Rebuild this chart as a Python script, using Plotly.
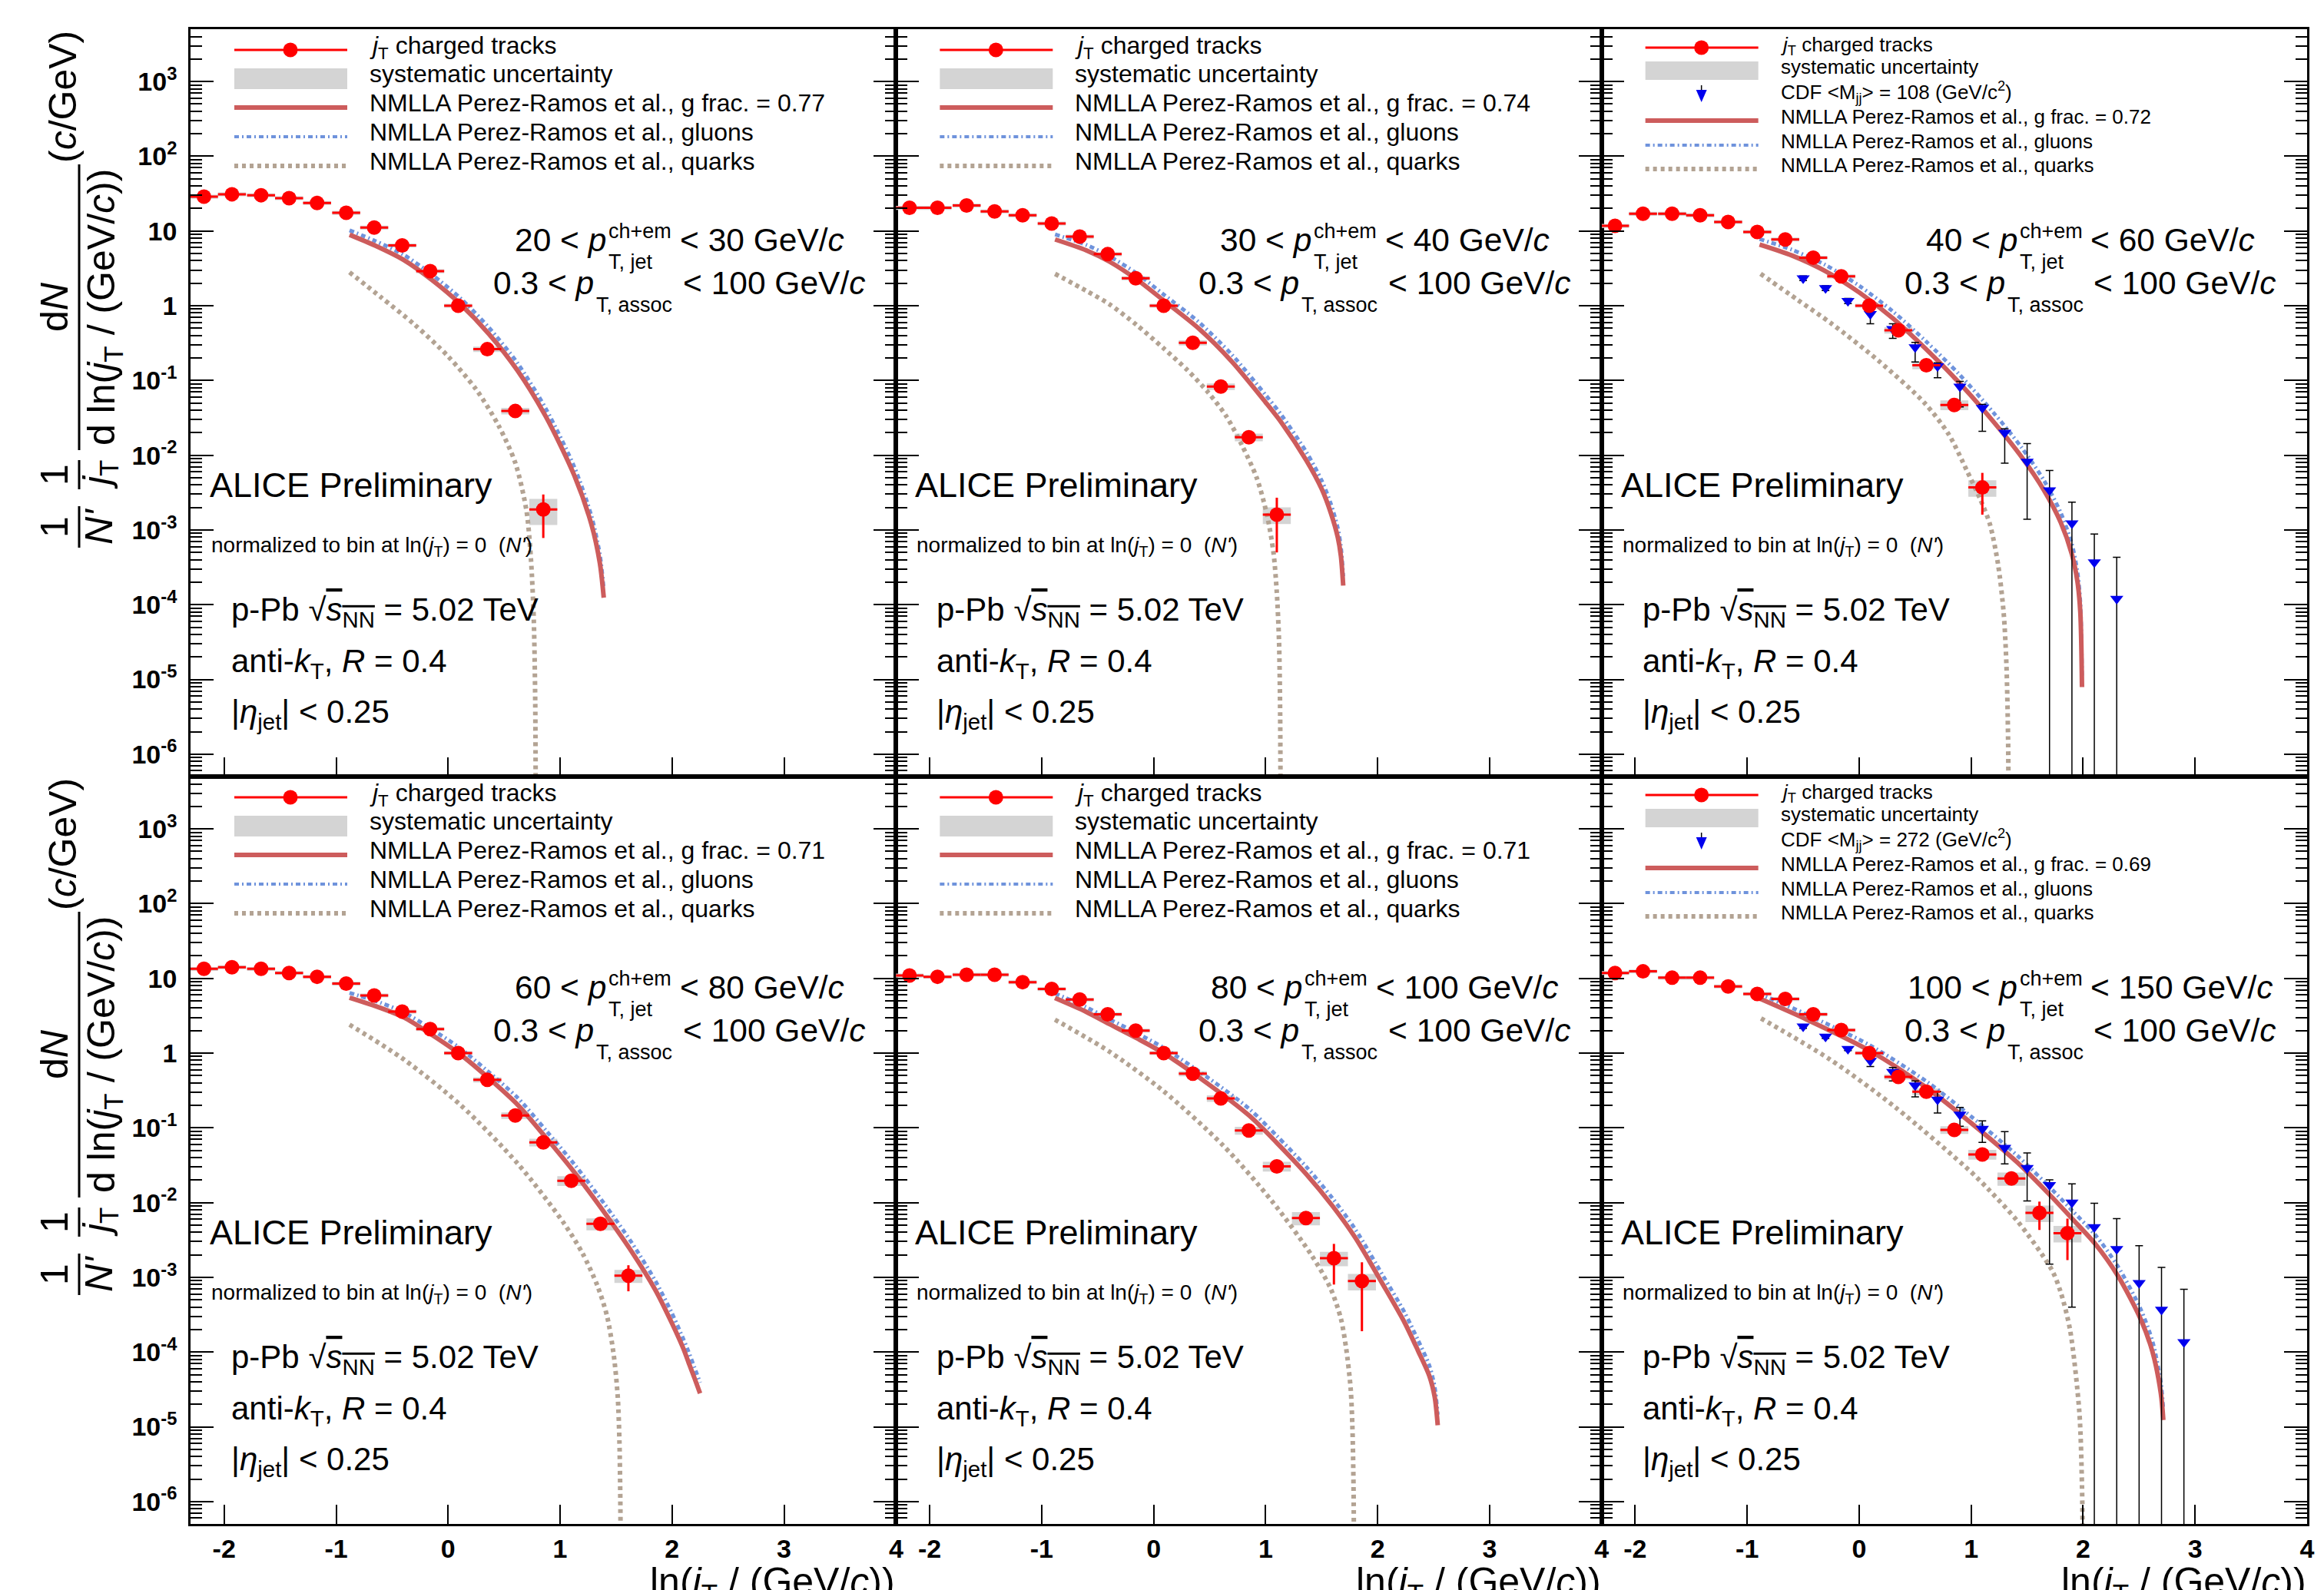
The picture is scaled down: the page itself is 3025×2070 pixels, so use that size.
import plotly.graph_objects as go
from plotly.subplots import make_subplots

# ---------------- data ----------------
jt_bins = [-2.18, -1.93, -1.67, -1.42, -1.17, -0.91, -0.66, -0.41, -0.16, 0.09,
           0.35, 0.60, 0.85, 1.10, 1.36, 1.61, 1.86]
bin_half_width = 0.125

jet_pt_low = [20, 30, 40, 60, 80, 100]
jet_pt_high = [30, 40, 60, 80, 100, 150]
g_fraction = ["0.77", "0.74", "0.72", "0.71", "0.71", "0.69"]
cdf_mjj = [None, None, "108", None, None, "272"]

# ALICE jT spectra
y_20_30 = [28.8, 31.0, 30.1, 27.5, 23.7, 17.5, 11.1, 6.4, 2.9, 1.0, 0.262, 0.039, 0.00188]
y_30_40 = [20.4, 20.4, 21.9, 18.3, 16.2, 12.6, 8.4, 4.9, 2.33, 1.0, 0.32, 0.083, 0.0174, 0.0016]
y_40_60 = [11.7, 17.0, 17.0, 16.2, 13.2, 9.7, 7.7, 4.4, 2.47, 1.0, 0.47, 0.16, 0.047, 0.0037]
y_60_80 = [13.4, 14.1, 13.4, 11.8, 10.5, 8.5, 5.9, 3.6, 2.1, 1.0, 0.44, 0.146, 0.064, 0.0196, 0.0052, 0.00105]
y_80_100 = [10.9, 10.5, 11.2, 11.2, 8.9, 7.2, 5.2, 3.3, 2.0, 1.0, 0.53, 0.247, 0.092, 0.0305, 0.0062, 0.0018, 0.00089]
y_100_150 = [11.8, 12.4, 10.2, 10.2, 7.8, 6.2, 5.3, 3.3, 2.03, 1.0, 0.48, 0.305, 0.094, 0.044, 0.021, 0.0073, 0.0039]

# statistical errors (absolute)
stat_20_30 = [0, 0, 0, 0, 0, 0, 0, 0, 0, 0, 0, 0, 0.0011]
stat_30_40 = [0, 0, 0, 0, 0, 0, 0, 0, 0, 0, 0, 0, 0, 0.0011]
stat_40_60 = [0, 0, 0, 0, 0, 0, 0, 0, 0, 0, 0, 0, 0, 0.0021]
stat_60_80 = [0, 0, 0, 0, 0, 0, 0, 0, 0, 0, 0, 0, 0, 0, 0, 0.0004]
stat_80_100 = [0, 0, 0, 0, 0, 0, 0, 0, 0, 0, 0, 0, 0, 0, 0, 0.001, 0.0007]
stat_100_150 = [0, 0, 0, 0, 0, 0, 0, 0, 0, 0, 0, 0, 0, 0, 0, 0.003, 0.0022]

# relative systematic uncertainties
syst_20_30 = [0.06, 0.06, 0.06, 0.06, 0.06, 0.06, 0.06, 0.06, 0.06, 0.06, 0.08, 0.10, 0.38]
syst_30_40 = [0.06, 0.06, 0.06, 0.06, 0.06, 0.06, 0.06, 0.06, 0.06, 0.06, 0.08, 0.10, 0.12, 0.25]
syst_40_60 = [0.06, 0.06, 0.06, 0.06, 0.06, 0.06, 0.06, 0.06, 0.06, 0.06, 0.10, 0.12, 0.15, 0.25]
syst_60_80 = [0.06, 0.06, 0.06, 0.06, 0.06, 0.06, 0.06, 0.06, 0.06, 0.06, 0.08, 0.10, 0.12, 0.15, 0.18, 0.20]
syst_80_100 = [0.06, 0.06, 0.06, 0.06, 0.06, 0.06, 0.06, 0.06, 0.06, 0.06, 0.08, 0.10, 0.12, 0.15, 0.20, 0.22, 0.25]
syst_100_150 = [0.06, 0.06, 0.06, 0.06, 0.06, 0.06, 0.06, 0.06, 0.06, 0.06, 0.08, 0.10, 0.12, 0.15, 0.20, 0.25, 0.25]

# NMLLA curves: total (g frac), gluons (same x as total), quarks
tot_x_20_30 = [-0.88, -0.655, -0.397, -0.143, 0.11, 0.364, 0.618, 0.872, 1.126, 1.279, 1.355, 1.39]
tot_y_20_30 = [8.9, 6.4, 4.1, 2.2, 1.05, 0.42, 0.137, 0.033, 0.0054, 0.0012, 3.6e-4, 1.24e-4]
glu_y_20_30 = [10.2, 7.4, 4.8, 2.6, 1.26, 0.51, 0.172, 0.042, 0.0070, 0.00155, 4.7e-4, 1.6e-4]
qrk_x_20_30 = [-0.88, -0.6, -0.3, 0.0, 0.25, 0.45, 0.6, 0.7, 0.74, 0.765, 0.778, 0.783]
qrk_y_20_30 = [2.8, 1.3, 0.56, 0.21, 0.076, 0.025, 0.0079, 0.0018, 4e-4, 6.3e-5, 5e-6, 1e-7]

tot_x_30_40 = [-0.88, -0.6, -0.396, -0.15, 0.088, 0.4, 0.7, 1.0, 1.144, 1.364, 1.5, 1.584, 1.645, 1.672, 1.693]
tot_y_30_40 = [7.7, 5.5, 3.9, 2.24, 1.18, 0.50, 0.178, 0.051, 0.027, 0.0085, 0.00355, 0.00166, 7.9e-4, 4.5e-4, 1.8e-4]
glu_y_30_40 = [9.0, 6.5, 4.6, 2.7, 1.42, 0.61, 0.22, 0.064, 0.034, 0.011, 0.0046, 0.0022, 0.00105, 6e-4, 2.4e-4]
qrk_x_30_40 = [-0.88, -0.6, -0.396, -0.15, 0.088, 0.3, 0.484, 0.65, 0.792, 0.92, 1.012, 1.07, 1.1, 1.12, 1.13, 1.134]
qrk_y_30_40 = [2.67, 1.58, 1.05, 0.55, 0.27, 0.138, 0.07, 0.033, 0.0133, 0.005, 0.0016, 5e-4, 1.45e-4, 3.2e-5, 3.2e-6, 1e-7]

tot_x_40_60 = [-0.889, -0.6, -0.3, 0.0, 0.3, 0.6, 0.9, 1.2, 1.45, 1.65, 1.8, 1.9, 1.95, 1.975, 1.99]
tot_y_40_60 = [6.6, 4.7, 2.9, 1.51, 0.68, 0.26, 0.091, 0.028, 0.0095, 0.0034, 0.00126, 4.7e-4, 2e-4, 7.9e-5, 7.9e-6]
glu_y_40_60 = [7.8, 5.6, 3.5, 1.85, 0.84, 0.33, 0.118, 0.037, 0.0127, 0.0046, 0.0017, 6.4e-4, 2.7e-4, 1.08e-4, 1.1e-5]
qrk_x_40_60 = [-0.88, -0.55, -0.245, 0.17, 0.584, 0.8, 0.96, 1.08, 1.167, 1.24, 1.29, 1.315, 1.33, 1.335]
qrk_y_40_60 = [2.67, 1.2, 0.574, 0.185, 0.05, 0.019, 0.0063, 0.0026, 0.0012, 3.5e-4, 7.9e-5, 1.6e-5, 1.6e-6, 1e-7]

tot_x_60_80 = [-0.88, -0.6, -0.394, -0.15, 0.094, 0.35, 0.623, 0.88, 1.131, 1.4, 1.64, 1.85, 1.995, 2.1, 2.148, 2.2, 2.25]
tot_y_60_80 = [5.5, 4.0, 3.0, 1.78, 1.0, 0.48, 0.202, 0.072, 0.025, 0.0072, 0.0022, 6.8e-4, 2.5e-4, 1.12e-4, 7.2e-5, 4.5e-5, 2.8e-5]
glu_y_60_80 = [6.4, 4.7, 3.5, 2.1, 1.2, 0.58, 0.25, 0.09, 0.032, 0.0094, 0.0029, 9e-4, 3.4e-4, 1.5e-4, 1e-4, 6.2e-5, 3.9e-5]
qrk_x_60_80 = [-0.88, -0.394, 0.114, 0.623, 1.03, 1.2, 1.335, 1.42, 1.48, 1.515, 1.53, 1.538, 1.542]
qrk_y_60_80 = [2.4, 0.82, 0.2, 0.033, 0.0054, 0.0021, 7.6e-4, 3.0e-4, 8.9e-5, 2.5e-5, 6.3e-6, 1e-6, 1e-7]

tot_x_80_100 = [-0.881, -0.6, -0.396, -0.15, 0.088, 0.484, 0.853, 1.1, 1.364, 1.6, 1.8, 2.05, 2.24, 2.36, 2.462, 2.51, 2.537]
tot_y_80_100 = [5.45, 3.55, 2.45, 1.58, 1.0, 0.39, 0.146, 0.063, 0.0239, 0.0089, 0.0034, 7.9e-4, 2.5e-4, 1.05e-4, 4.8e-5, 2.5e-5, 1.05e-5]
glu_y_80_100 = [6.3, 4.1, 2.85, 1.85, 1.18, 0.47, 0.18, 0.078, 0.030, 0.0113, 0.0044, 1.04e-3, 3.4e-4, 1.45e-4, 6.6e-5, 3.4e-5, 1.45e-5]
qrk_x_80_100 = [-0.881, -0.396, 0.088, 0.616, 1.056, 1.408, 1.58, 1.672, 1.72, 1.759, 1.775, 1.785, 1.79]
qrk_y_80_100 = [2.8, 1.05, 0.31, 0.059, 0.0105, 0.002, 7.1e-4, 2.8e-4, 1.1e-4, 3.3e-5, 1e-5, 1.6e-6, 1e-7]

tot_x_100_150 = [-0.9, -0.47, 0.092, 0.599, 0.997, 1.416, 1.725, 1.906, 2.108, 2.31, 2.512, 2.62, 2.694, 2.716]
tot_y_100_150 = [5.45, 2.82, 1.08, 0.347, 0.117, 0.034, 0.0117, 0.006, 0.0028, 0.00105, 2.8e-4, 1e-4, 2.8e-5, 1.23e-5]
glu_y_100_150 = [6.3, 3.3, 1.28, 0.42, 0.143, 0.042, 0.0148, 0.0077, 0.0037, 0.0014, 3.8e-4, 1.38e-4, 3.9e-5, 1.7e-5]
qrk_x_100_150 = [-0.876, -0.259, 0.32, 0.997, 1.159, 1.416, 1.72, 1.8, 1.883, 1.966, 1.99, 2.0]
qrk_y_100_150 = [2.91, 0.82, 0.19, 0.0259, 0.0148, 0.0056, 0.00126, 6.3e-4, 2e-4, 1.6e-5, 1.6e-6, 1e-7]

# CDF points
cdf_x_40_60 = [-0.5, -0.3, -0.1, 0.1, 0.3, 0.5, 0.7, 0.9, 1.1, 1.3, 1.5, 1.7, 1.9, 2.1, 2.3]
cdf_y_40_60 = [2.33, 1.72, 1.16, 0.775, 0.49, 0.278, 0.155, 0.083, 0.043, 0.02, 0.0082, 0.0034, 0.00123, 3.7e-4, 1.2e-4]
cdf_hi_40_60 = [2.5, 1.85, 1.25, 0.97, 0.574, 0.324, 0.172, 0.097, 0.0478, 0.0225, 0.0143, 0.00625, 0.00235, 8.8e-4, 4.3e-4]
cdf_lo_40_60 = [2.17, 1.6, 1.07, 0.574, 0.365, 0.177, 0.109, 0.0443, 0.0209, 0.0078, 0.00139, 1e-9, 1e-9, 1e-9, 1e-9]

cdf_x_100_150 = [-0.5, -0.3, -0.1, 0.1, 0.3, 0.5, 0.7, 0.9, 1.1, 1.3, 1.5, 1.7, 1.9, 2.1, 2.3, 2.5, 2.7, 2.9]
cdf_y_100_150 = [2.27, 1.66, 1.14, 0.79, 0.56, 0.37, 0.239, 0.151, 0.097, 0.054, 0.029, 0.0172, 0.01, 0.0047, 0.0024, 8.4e-4, 3.7e-4, 1.36e-4]
cdf_hi_100_150 = [2.4, 1.75, 1.2, 0.89, 0.64, 0.425, 0.305, 0.187, 0.124, 0.089, 0.046, 0.0202, 0.0178, 0.0098, 0.0061, 0.00265, 0.00136, 6.9e-4]
cdf_lo_100_150 = [2.15, 1.57, 1.08, 0.66, 0.425, 0.26, 0.158, 0.105, 0.064, 0.033, 0.0105, 0.0015, 4e-4, 1e-9, 1e-9, 1e-9, 1e-9, 1e-9]

panels = [
    dict(y=y_20_30, stat=stat_20_30, syst=syst_20_30, tx=tot_x_20_30, ty=tot_y_20_30, gy=glu_y_20_30,
         qx=qrk_x_20_30, qy=qrk_y_20_30, cdf=None),
    dict(y=y_30_40, stat=stat_30_40, syst=syst_30_40, tx=tot_x_30_40, ty=tot_y_30_40, gy=glu_y_30_40,
         qx=qrk_x_30_40, qy=qrk_y_30_40, cdf=None),
    dict(y=y_40_60, stat=stat_40_60, syst=syst_40_60, tx=tot_x_40_60, ty=tot_y_40_60, gy=glu_y_40_60,
         qx=qrk_x_40_60, qy=qrk_y_40_60, cdf=(cdf_x_40_60, cdf_y_40_60, cdf_hi_40_60, cdf_lo_40_60)),
    dict(y=y_60_80, stat=stat_60_80, syst=syst_60_80, tx=tot_x_60_80, ty=tot_y_60_80, gy=glu_y_60_80,
         qx=qrk_x_60_80, qy=qrk_y_60_80, cdf=None),
    dict(y=y_80_100, stat=stat_80_100, syst=syst_80_100, tx=tot_x_80_100, ty=tot_y_80_100, gy=glu_y_80_100,
         qx=qrk_x_80_100, qy=qrk_y_80_100, cdf=None),
    dict(y=y_100_150, stat=stat_100_150, syst=syst_100_150, tx=tot_x_100_150, ty=tot_y_100_150, gy=glu_y_100_150,
         qx=qrk_x_100_150, qy=qrk_y_100_150, cdf=(cdf_x_100_150, cdf_y_100_150, cdf_hi_100_150, cdf_lo_100_150)),
]

y_tick_vals = [1e-6, 1e-5, 1e-4, 1e-3, 1e-2, 1e-1, 1, 10, 100, 1000]
y_tick_text = ["<b>10<sup>-6</sup></b>", "<b>10<sup>-5</sup></b>", "<b>10<sup>-4</sup></b>",
               "<b>10<sup>-3</sup></b>", "<b>10<sup>-2</sup></b>", "<b>10<sup>-1</sup></b>", "<b>1</b>",
               "<b>10</b>", "<b>10<sup>2</sup></b>", "<b>10<sup>3</sup></b>"]
x_tick_vals = [-2, -1, 0, 1, 2, 3, 4]
x_tick_text = ["<b>-2</b>", "<b>-1</b>", "<b>0</b>", "<b>1</b>", "<b>2</b>", "<b>3</b>", "<b>4</b>"]

# ---------------- styling / layout ----------------
W, H = 3025, 2070
ML, MR, MT, MB = 240, 30, 30, 94
PW = (W - ML - MR) / 3.0
PH = (H - MT - MB) / 2.0
FONT = "Liberation Sans, Arial, Helvetica, sans-serif"

RED = "#ff0000"
TOT_C = "#cd5c5c"
GLU_C = "#6f93dc"
QRK_C = "#b3a393"
SYS_C = "#d4d4d4"
CDF_C = "#0000ee"
GLU_DASH = "6px,4px,2px,4px"
QRK_DASH = "5px,5px"

fig = make_subplots(rows=2, cols=3, horizontal_spacing=0, vertical_spacing=0)


def px(x):
    return (x - ML) / (W - ML - MR)


def py(y):
    return (H - MB - y) / (H - MT - MB)


def text(x, y, s, size, xanchor="left", yanchor="middle", angle=0, lift=True):
    # lift: move the box so that the visible glyphs are centred on y
    yy = y - 0.2 * size if (lift and angle == 0) else y
    fig.add_annotation(x=px(x), y=py(yy), xref="paper", yref="paper", text=s, showarrow=False,
                       font=dict(family=FONT, size=size, color="black"), xanchor=xanchor,
                       yanchor=yanchor, textangle=angle, borderpad=0)


def hline(x0, y0, x1, y1, color, width, dash="solid"):
    fig.add_shape(type="line", xref="paper", yref="paper", x0=px(x0), y0=py(y0), x1=px(x1), y1=py(y1),
                  line=dict(color=color, width=width, dash=dash))


AW = {' ': 0.278, '0': 0.556, '1': 0.556, '2': 0.556, '3': 0.556, '4': 0.556, '5': 0.556, '6': 0.556,
      '7': 0.556, '8': 0.556, '9': 0.556, '.': 0.278, ',': 0.278, '<': 0.584, '+': 0.584, '/': 0.278,
      'p': 0.556, 'c': 0.5, 'h': 0.556, 'e': 0.556, 'm': 0.833, 'T': 0.611, 'j': 0.222, 't': 0.278,
      'a': 0.556, 's': 0.5, 'o': 0.556, 'G': 0.778, 'V': 0.667}


def tw(s, size):
    return sum(AW.get(ch, 0.556) for ch in s) * size


minor_vals = [m * 10.0 ** k for k in range(-7, 4) for m in range(2, 10)]

for i, p in enumerate(panels):
    r, c = i // 3 + 1, i % 3 + 1
    n = len(p["y"])
    xb = jt_bins[:n]
    # systematic boxes
    bx, by = [], []
    for xv, yv, s in zip(xb, p["y"], p["syst"]):
        lo, hi = yv * (1 - s), yv * (1 + s)
        bx += [xv - bin_half_width, xv + bin_half_width, xv + bin_half_width, xv - bin_half_width,
               xv - bin_half_width, None]
        by += [lo, lo, hi, hi, lo, None]
    fig.add_trace(go.Scatter(x=bx, y=by, mode="lines", fill="toself", fillcolor=SYS_C,
                             line=dict(width=0, color=SYS_C), hoverinfo="skip"), row=r, col=c)
    # curves
    fig.add_trace(go.Scatter(x=p["qx"], y=p["qy"], mode="lines",
                             line=dict(color=QRK_C, width=6, dash=QRK_DASH, shape="spline", smoothing=0.8)),
                  row=r, col=c)
    fig.add_trace(go.Scatter(x=p["tx"], y=p["gy"], mode="lines",
                             line=dict(color=GLU_C, width=5, dash=GLU_DASH, shape="spline", smoothing=0.8)),
                  row=r, col=c)
    fig.add_trace(go.Scatter(x=p["tx"], y=p["ty"], mode="lines",
                             line=dict(color=TOT_C, width=6, shape="spline", smoothing=0.8)),
                  row=r, col=c)
    # CDF
    if p["cdf"] is not None:
        cx_, cy_, chi, clo = p["cdf"]
        fig.add_trace(go.Scatter(x=cx_, y=cy_, mode="markers",
                                 marker=dict(symbol="triangle-down", size=15, color=CDF_C),
                                 error_y=dict(type="data", array=[h - v for h, v in zip(chi, cy_)],
                                              arrayminus=[v - l for v, l in zip(cy_, clo)],
                                              color="black", thickness=1.5, width=5)),
                      row=r, col=c)
    # ALICE data
    fig.add_trace(go.Scatter(x=xb, y=p["y"], mode="markers",
                             marker=dict(symbol="circle", size=19, color=RED),
                             error_x=dict(type="constant", value=bin_half_width, color=RED, thickness=3, width=0),
                             error_y=dict(type="data", array=p["stat"], color=RED, thickness=3, width=0)),
                  row=r, col=c)

    fig.update_xaxes(row=r, col=c, range=[-2.3, 4.0], tickmode="array", tickvals=x_tick_vals,
                     ticktext=x_tick_text, showticklabels=(r == 2), ticks="inside", ticklen=25,
                     tickwidth=2, tickcolor="black", showline=True, linecolor="black", linewidth=2.5,
                     mirror=True, showgrid=False, zeroline=False, ticklabelstandoff=0,
                     tickfont=dict(family=FONT, size=34, color="black"))
    fig.update_yaxes(row=r, col=c, type="log", range=[-6.3, 3.7], tickmode="array", tickvals=y_tick_vals,
                     ticktext=y_tick_text, showticklabels=(c == 1), ticks="inside", ticklen=30,
                     tickwidth=2, tickcolor="black", showline=True, linecolor="black", linewidth=2.5,
                     mirror="ticks", showgrid=False, zeroline=False, ticklabelstandoff=8,
                     tickfont=dict(family=FONT, size=34, color="black"),
                     minor=dict(tickmode="array", tickvals=minor_vals, ticks="inside", ticklen=15,
                                tickwidth=1.5, tickcolor="black", showgrid=False))

    # ---------- per panel texts ----------
    x0 = ML + (c - 1) * PW
    y0 = MT + (r - 1) * PH

    # legend
    has_cdf = p["cdf"] is not None
    if has_cdf:
        rows = [24, 54, 87, 119, 151, 182]
        box = (42, 66)
        lfs = 26
    else:
        rows = [27, 64, 102, 140, 178]
        box = (51, 78)
        lfs = 32
    sx0, sx1, scx = x0 + 57, x0 + 204, x0 + 130
    tx0 = x0 + 232
    k = 0
    hline(sx0, y0 + rows[k], sx1, y0 + rows[k], RED, 3)
    fig.add_shape(type="circle", xref="paper", yref="paper", x0=px(scx - 9.5), x1=px(scx + 9.5),
                  y0=py(y0 + rows[k] - 9.5), y1=py(y0 + rows[k] + 9.5), fillcolor=RED, line=dict(width=0))
    text(tx0, y0 + rows[k] + 3, "<i>j</i><sub>T</sub> charged tracks", lfs)
    k += 1
    fig.add_shape(type="rect", xref="paper", yref="paper", x0=px(sx0), x1=px(sx1),
                  y0=py(y0 + box[0]), y1=py(y0 + box[1]), fillcolor=SYS_C, line=dict(width=0))
    text(tx0, y0 + rows[k], "systematic uncertainty", lfs)
    k += 1
    if has_cdf:
        yc = y0 + rows[k]
        hline(scx, yc - 14, scx, yc, "black", 1.5)
        path = "M {} {} L {} {} L {} {} Z".format(px(scx - 7), py(yc - 8), px(scx + 7), py(yc - 8),
                                                  px(scx), py(yc + 8))
        fig.add_shape(type="path", xref="paper", yref="paper", path=path, fillcolor=CDF_C,
                      line=dict(width=0))
        text(tx0, yc, "CDF &lt;M<sub>jj</sub>&gt; = " + cdf_mjj[i] + " (GeV/c<sup>2</sup>)", lfs)
        k += 1
    hline(sx0, y0 + rows[k], sx1, y0 + rows[k], TOT_C, 6)
    text(tx0, y0 + rows[k], "NMLLA Perez-Ramos et al., g frac. = " + g_fraction[i], lfs)
    k += 1
    hline(sx0, y0 + rows[k], sx1, y0 + rows[k], GLU_C, 4, GLU_DASH)
    text(tx0, y0 + rows[k], "NMLLA Perez-Ramos et al., gluons", lfs)
    k += 1
    hline(sx0, y0 + rows[k], sx1, y0 + rows[k], QRK_C, 6, QRK_DASH)
    text(tx0, y0 + rows[k], "NMLLA Perez-Ramos et al., quarks", lfs)

    # kinematic selection lines (centred)
    big, small = 42.5, 27
    cx = x0 + 636
    a1 = "{} < p".format(jet_pt_low[i])
    c1 = " < {} GeV/c".format(jet_pt_high[i])
    wA = tw(a1, big)
    wS = max(tw("ch+em", small), tw("T, jet", small))
    wC = tw(c1, big)
    left = cx - (wA + wS + wC) / 2.0
    text(left + wA, y0 + 283, "{} &lt; <i>p</i>".format(jet_pt_low[i]), big, xanchor="right")
    text(left + wA + 1, y0 + 268, "ch+em", small)
    text(left + wA + 1, y0 + 308, "T, jet", small)
    text(left + wA + wS + tw(" ", big), y0 + 283,
         "&lt; {} GeV/<i>c</i>".format(jet_pt_high[i]), big)
    a2 = "0.3 < p"
    c2 = " < 100 GeV/c"
    wA2 = tw(a2, big)
    wS2 = tw("T, assoc", small)
    wC2 = tw(c2, big)
    left2 = cx - (wA2 + wS2 + wC2) / 2.0
    text(left2 + wA2, y0 + 339, "0.3 &lt; <i>p</i>", big, xanchor="right")
    text(left2 + wA2 + 1, y0 + 364, "T, assoc", small)
    text(left2 + wA2 + wS2 + tw(" ", big), y0 + 339, "&lt; 100 GeV/<i>c</i>", big)

    text(x0 + 24, y0 + 602, "ALICE Preliminary", 45)
    text(x0 + 26, y0 + 679, "normalized to bin at ln(<i>j</i><sub>T</sub>) = 0\u00a0\u00a0(<i>N'</i>)", 28)
    text(x0 + 52, y0 + 767,
         "p-Pb \u221a<span style='text-decoration:overline'><i>s</i><sub>NN</sub></span> = 5.02 TeV", 42)
    text(x0 + 52, y0 + 834, "anti-<i>k</i><sub>T</sub>, <i>R</i> = 0.4", 42)
    text(x0 + 52, y0 + 900, "|<i>\u03b7</i><sub>jet</sub>| &lt; 0.25", 42)

    if r == 2:
        text(x0 + PW, 2064, "ln(<i>j</i><sub>T</sub> / (GeV/<i>c</i>))", 50, xanchor="right")

# y-axis titles (one per row)
for r in range(2):
    y0 = MT + r * PH
    tf = 50
    text(74, y0 + 88, "(<i>c</i>/GeV)", tf, xanchor="center", angle=-90)
    hline(95, y0 + 176, 95, y0 + 548, "black", 3)
    text(63, y0 + 362, "d<i>N</i>", tf, xanchor="center", angle=-90)
    text(127, y0 + 362, "d ln(<i>j</i><sub>T</sub> / (GeV/<i>c</i>))", tf, xanchor="center", angle=-90)
    text(63, y0 + 580, "1", tf, xanchor="center", angle=-90)
    hline(95, y0 + 561, 95, y0 + 599, "black", 3)
    text(121, y0 + 580, "<i>j</i><sub>T</sub>", tf, xanchor="center", angle=-90)
    text(63, y0 + 648, "1", tf, xanchor="center", angle=-90)
    hline(95, y0 + 621, 95, y0 + 675, "black", 3)
    text(121, y0 + 648, "<i>N'</i>", tf, xanchor="center", angle=-90)

fig.update_layout(width=W, height=H, margin=dict(l=ML, r=MR, t=MT, b=MB), showlegend=False,
                  paper_bgcolor="white", plot_bgcolor="white", font=dict(family=FONT, color="black"))

fig.write_html("out.html")
